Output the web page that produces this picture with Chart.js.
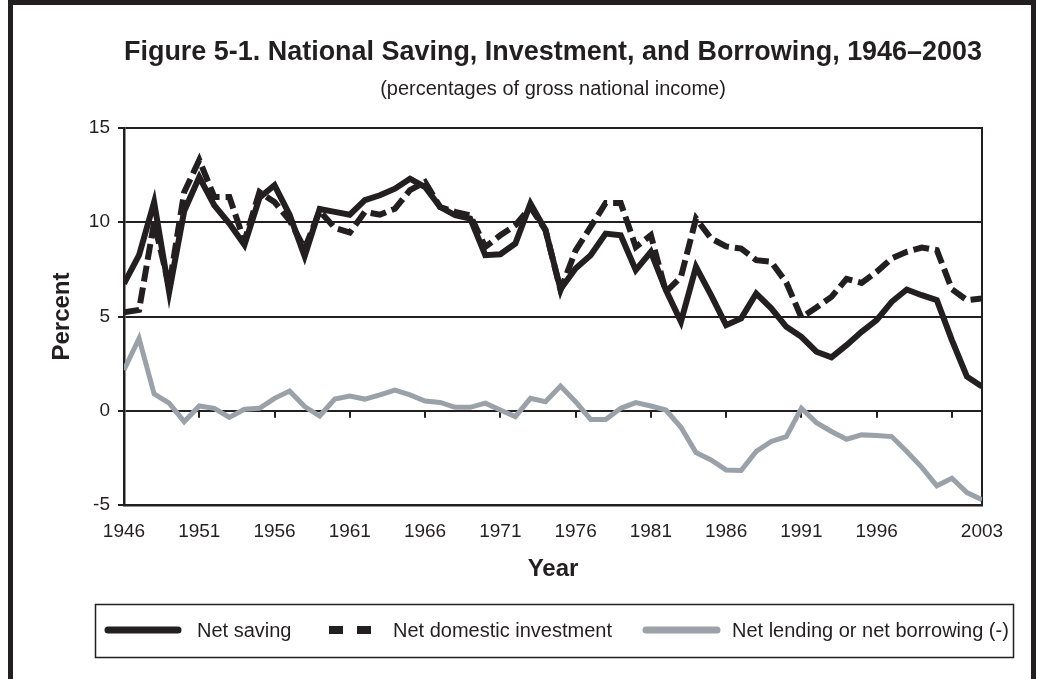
<!DOCTYPE html>
<html>
<head>
<meta charset="utf-8">
<script src="https://cdn.jsdelivr.net/npm/chart.js@4.4.1/dist/chart.umd.min.js"></script>
<style>
  body { margin:0; background:#fff; }
  #wrap { position:relative; width:1040px; height:679px; overflow:hidden; }
  #saving_chart { position:absolute; left:0; top:0; }
  #frame { position:absolute; left:8px; top:0; width:1018px; height:720px;
           border:5px solid #231f20; border-bottom:none; pointer-events:none; }
</style>
</head>
<body>
<div id="wrap">
  <canvas id="saving_chart" width="1040" height="679"></canvas>
  <div id="frame"></div>
</div>
<script>
// years 1946-2003, percent of gross national income
var years = [];
for (var y = 1946; y <= 2003; y++) years.push(y);

var netSaving = [
  6.75, 8.25, 11.07, 6.3, 10.6, 12.4, 10.9, 9.93, 8.8, 11.3,
  11.96, 10.4, 8.2, 10.7, 10.55, 10.4, 11.17, 11.43, 11.78, 12.31,
  11.87, 10.81, 10.37, 10.2, 8.25, 8.3, 8.87, 10.99, 9.58, 6.45,
  7.55, 8.25, 9.4, 9.31, 7.46, 8.43, 6.4, 4.72, 7.63, 6.13,
  4.54, 4.9, 6.22, 5.43, 4.45, 3.92, 3.13, 2.83, 3.48, 4.19,
  4.81, 5.78, 6.43, 6.13, 5.87, 3.75, 1.81, 1.28
];
var netInvestment = [
  5.23, 5.35, 10.0, 6.6, 11.6, 13.3, 11.34, 11.34, 9.0, 11.6,
  11.07, 10.1, 8.6, 10.6, 9.7, 9.45, 10.55, 10.4, 10.72, 11.7,
  12.13, 10.81, 10.55, 10.37, 8.69, 9.31, 9.84, 10.8, 9.6, 6.4,
  8.5, 9.75, 11.02, 11.02, 8.69, 9.31, 6.31, 7.1, 10.2, 9.14,
  8.72, 8.6, 7.99, 7.9, 6.8, 4.95, 5.48, 6.04, 7.0, 6.78,
  7.37, 8.08, 8.43, 8.66, 8.52, 6.45, 5.87, 5.96
];
var netLending = [
  2.16, 3.84, 0.89, 0.4, -0.58, 0.25, 0.13, -0.35, 0.08, 0.13,
  0.66, 1.05, 0.22, -0.28, 0.62, 0.78, 0.62, 0.84, 1.1, 0.84,
  0.52, 0.44, 0.18, 0.18, 0.4, 0.04, -0.31, 0.66, 0.48, 1.31,
  0.48, -0.46, -0.46, 0.13, 0.43, 0.25, 0.04, -0.88, -2.22, -2.61,
  -3.14, -3.17, -2.16, -1.63, -1.37, 0.13, -0.63, -1.1, -1.51, -1.28,
  -1.31, -1.37, -2.16, -3.0, -3.98, -3.58, -4.34, -4.72
];
var yearLabels = [1946, 1951, 1956, 1961, 1966, 1971, 1976, 1981, 1986, 1991, 1996, 2003];
var zeroTicks = [1951, 1956, 1961, 1966, 1971, 1976, 1981, 1986, 1991, 1996, 2001];

var INK = '#231f20';
var GREY = '#9ba1a8';
var FONT = '"Liberation Sans", Arial, sans-serif';

function pts(vals){
  return vals.map(function(v, i){ return {x: years[i], y: v}; });
}

// small ticks on the zero line plus the right edge of the plot
var axisMarks = {
  id: 'axisMarks',
  beforeDatasetsDraw: function(chart){
    var ctx = chart.ctx, xs = chart.scales.x, ys = chart.scales.y, a = chart.chartArea;
    var y0 = ys.getPixelForValue(0);
    ctx.save();
    ctx.strokeStyle = INK;
    ctx.lineWidth = 2;
    ctx.beginPath();
    zeroTicks.forEach(function(t){
      var px = Math.round(xs.getPixelForValue(t));
      ctx.moveTo(px, y0);
      ctx.lineTo(px, y0 + 7);
    });
    ctx.moveTo(a.right, a.top - 1);
    ctx.lineTo(a.right, a.bottom + 1);
    ctx.stroke();
    ctx.restore();
  }
};

// boxed legend under the axis title
var boxLegend = {
  id: 'boxLegend',
  afterDraw: function(chart){
    var ctx = chart.ctx;
    var ds = chart.data.datasets;
    var cy = 630;
    ctx.save();
    ctx.strokeStyle = INK;
    ctx.lineWidth = 1.5;
    ctx.strokeRect(95.5, 604.5, 918, 53);

    ctx.lineWidth = 7;
    ctx.lineCap = 'round';
    ctx.strokeStyle = ds[0].borderColor;
    ctx.beginPath(); ctx.moveTo(108, cy); ctx.lineTo(178, cy); ctx.stroke();
    ctx.strokeStyle = ds[2].borderColor;
    ctx.beginPath(); ctx.moveTo(646, cy); ctx.lineTo(717, cy); ctx.stroke();

    ctx.fillStyle = ds[1].borderColor;
    ctx.fillRect(329, cy - 4, 14, 8);
    ctx.fillRect(357, cy - 4, 14, 8);

    ctx.fillStyle = INK;
    ctx.font = '20px ' + FONT;
    ctx.textBaseline = 'middle';
    ctx.fillText(ds[0].label, 197, cy + 1);
    ctx.fillText(ds[1].label, 393, cy + 1);
    ctx.fillText(ds[2].label, 732, cy + 1);
    ctx.restore();
  }
};

var savingChart = new Chart(document.getElementById('saving_chart'), {
  type: 'line',
  data: {
    datasets: [
      {
        label: 'Net saving', data: pts(netSaving),
        borderColor: INK, borderWidth: 6, order: 3
      },
      {
        label: 'Net domestic investment', data: pts(netInvestment),
        borderColor: INK, borderWidth: 6, borderDash: [16, 6], order: 2
      },
      {
        label: 'Net lending or net borrowing (-)', data: pts(netLending),
        borderColor: GREY, borderWidth: 5, order: 1
      }
    ]
  },
  options: {
    responsive: false,
    animation: false,
    parsing: false,
    elements: {
      point: { radius: 0 },
      line: { tension: 0, borderJoinStyle: 'miter', borderCapStyle: 'butt' }
    },
    layout: { padding: { left: 20, right: 58, top: 0, bottom: 89 } },
    plugins: {
      legend: { display: false },
      tooltip: { enabled: false },
      title: {
        display: true, fullSize: false,
        text: 'Figure 5-1. National Saving, Investment, and Borrowing, 1946\u20132003',
        color: INK,
        font: { family: FONT, size: 27, weight: 'bold', lineHeight: 1.2 },
        padding: { top: 36.8, bottom: 7.8 }
      },
      subtitle: {
        display: true, fullSize: false,
        text: '(percentages of gross national income)',
        color: INK,
        font: { family: FONT, size: 20, lineHeight: 1.2 },
        padding: { top: 0, bottom: 27 }
      }
    },
    scales: {
      x: {
        type: 'linear', min: 1946, max: 2003,
        afterBuildTicks: function(s){
          s.ticks = yearLabels.map(function(v){ return {value: v}; });
        },
        afterFit: function(s){ s.height = 85; },
        ticks: {
          color: INK, font: { family: FONT, size: 19 },
          padding: 15.6, maxRotation: 0, autoSkip: false,
          callback: function(v){ return String(v); }
        },
        grid: { display: false, drawTicks: false },
        border: { display: true, color: INK, width: 2.5 },
        title: {
          display: true, text: 'Year', color: INK,
          font: { family: FONT, size: 24, weight: 'bold', lineHeight: 1.2 },
          padding: { top: 0, bottom: 6.6 }
        }
      },
      y: {
        min: -5, max: 15,
        afterFit: function(s){ s.width = 104; },
        ticks: {
          stepSize: 5, color: INK, padding: 8,
          font: { family: FONT, size: 19 }
        },
        grid: { color: INK, lineWidth: 2, drawTicks: true, tickLength: 6, tickColor: INK },
        border: { display: true, color: INK, width: 2.5 },
        title: {
          display: true, text: 'Percent', color: INK,
          font: { family: FONT, size: 24, weight: 'bold', lineHeight: 1.2 },
          padding: { top: 27.6, bottom: 0 }
        }
      }
    }
  },
  plugins: [axisMarks, boxLegend]
});
</script>
</body>
</html>
